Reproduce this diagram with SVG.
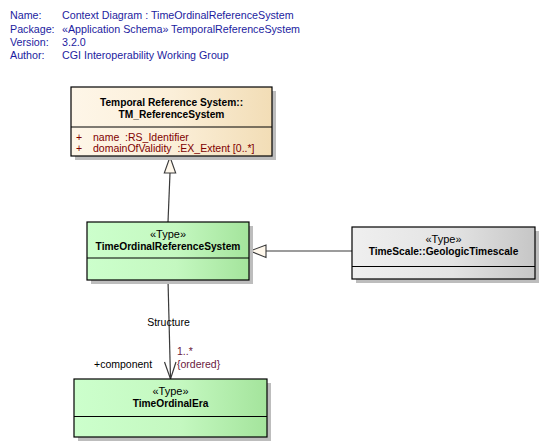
<svg xmlns="http://www.w3.org/2000/svg" width="546" height="448" viewBox="0 0 546 448">
<defs>
<linearGradient id="gTan" x1="0" y1="0" x2="1" y2="0">
<stop offset="0" stop-color="#FEF6E8"/><stop offset="0.5" stop-color="#FBEFD9"/><stop offset="1" stop-color="#F2DDB6"/>
</linearGradient>
<linearGradient id="gGreen" x1="0" y1="0" x2="1" y2="0">
<stop offset="0" stop-color="#CCFFCC"/><stop offset="0.55" stop-color="#C4F8C0"/><stop offset="1" stop-color="#A4E49C"/>
</linearGradient>
<linearGradient id="gGray" x1="0" y1="0" x2="1" y2="0">
<stop offset="0" stop-color="#EFEFEF"/><stop offset="0.55" stop-color="#E3E3E3"/><stop offset="1" stop-color="#C6C6C6"/>
</linearGradient>
</defs>
<style>
text{font-family:"Liberation Sans",Arial,sans-serif;font-size:11px;white-space:pre;}
.hdr{fill:#1C1CA0;font-size:10.7px;}
.b{font-weight:bold;font-size:10.2px;}
.c{text-anchor:middle;fill:#000;}
.attr{fill:#800000;font-size:10.5px;}
.box{stroke:#000;stroke-width:1.2;}
.shadow{fill:#BDBDBD;}
.div{stroke:#000;stroke-width:1;}
.con{stroke:#3A3A3A;stroke-width:1.2;fill:none;}
.gen{fill:#FFF8EC;stroke:#3A3A3A;stroke-width:1.1;}
.lbl{fill:#000;font-size:10.5px;}
.mult{fill:#6A1A40;font-size:10.5px;}
</style>
<rect width="546" height="448" fill="#FFFFFF"/>
<g id="header">
<text class="hdr" x="10" y="19">Name:</text><text class="hdr" x="62" y="19">Context Diagram : TimeOrdinalReferenceSystem</text>
<text class="hdr" x="10" y="32.5">Package:</text><text class="hdr" x="62" y="32.5">«Application Schema» TemporalReferenceSystem</text>
<text class="hdr" x="10" y="45.5">Version:</text><text class="hdr" x="62" y="45.5">3.2.0</text>
<text class="hdr" x="10" y="58.5">Author:</text><text class="hdr" x="62" y="58.5">CGI Interoperability Working Group</text>
</g>
<g id="connectors">
<line class="con" x1="170" y1="173" x2="168" y2="222"/>
<polygon class="gen" points="170,157 164.3,173 175.7,173"/>
<line class="con" x1="266" y1="251" x2="352" y2="251"/>
<polygon class="gen" points="250,251 266,245 266,257.5"/>
<line class="con" x1="168" y1="280" x2="170.5" y2="379"/>
<polyline class="con" points="164.5,362 170.5,379 176,362"/>
<text class="lbl" x="168.5" y="326" text-anchor="middle">Structure</text>
<text class="lbl" x="94" y="368">+component</text>
<text class="mult" x="177" y="355">1..*</text>
<text class="mult" x="177" y="368">{ordered}</text>
</g>
<g id="TM_ReferenceSystem">
<rect class="shadow" x="75" y="91" width="201" height="69"/>
<rect class="box" x="71" y="87" width="201" height="69" fill="url(#gTan)"/>
<line class="div" x1="71" y1="127" x2="272" y2="127"/>
<text class="c b" x="171.5" y="106">Temporal Reference System::</text>
<text class="c b" x="171.5" y="118">TM_ReferenceSystem</text>
<text class="attr" x="76" y="141">+</text><text class="attr" x="93" y="141">name  :RS_Identifier</text>
<text class="attr" x="76" y="152">+</text><text class="attr" x="93" y="152">domainOfValidity  :EX_Extent [0..*]</text>
</g>
<g id="TimeOrdinalReferenceSystem">
<rect class="shadow" x="91" y="226" width="162" height="58"/>
<rect class="box" x="87" y="222" width="162" height="58" fill="url(#gGreen)"/>
<line class="div" x1="87" y1="258" x2="249" y2="258"/>
<text class="c" x="168" y="238" font-size="10.5">«Type»</text>
<text class="c b" x="168" y="249.5">TimeOrdinalReferenceSystem</text>
</g>
<g id="GeologicTimescale">
<rect class="shadow" x="356" y="231" width="183" height="52"/>
<rect class="box" x="352" y="227" width="183" height="52" fill="url(#gGray)"/>
<line class="div" x1="352" y1="266.5" x2="535" y2="266.5"/>
<text class="c" x="443.5" y="243" font-size="10.5">«Type»</text>
<text class="c b" x="443.5" y="254.5">TimeScale::GeologicTimescale</text>
</g>
<g id="TimeOrdinalEra">
<rect class="shadow" x="78" y="383" width="193" height="58"/>
<rect class="box" x="74" y="379" width="193" height="58" fill="url(#gGreen)"/>
<line class="div" x1="74" y1="416.5" x2="267" y2="416.5"/>
<text class="c" x="170.5" y="395" font-size="10.5">«Type»</text>
<text class="c b" x="170.5" y="407">TimeOrdinalEra</text>
</g>
</svg>
